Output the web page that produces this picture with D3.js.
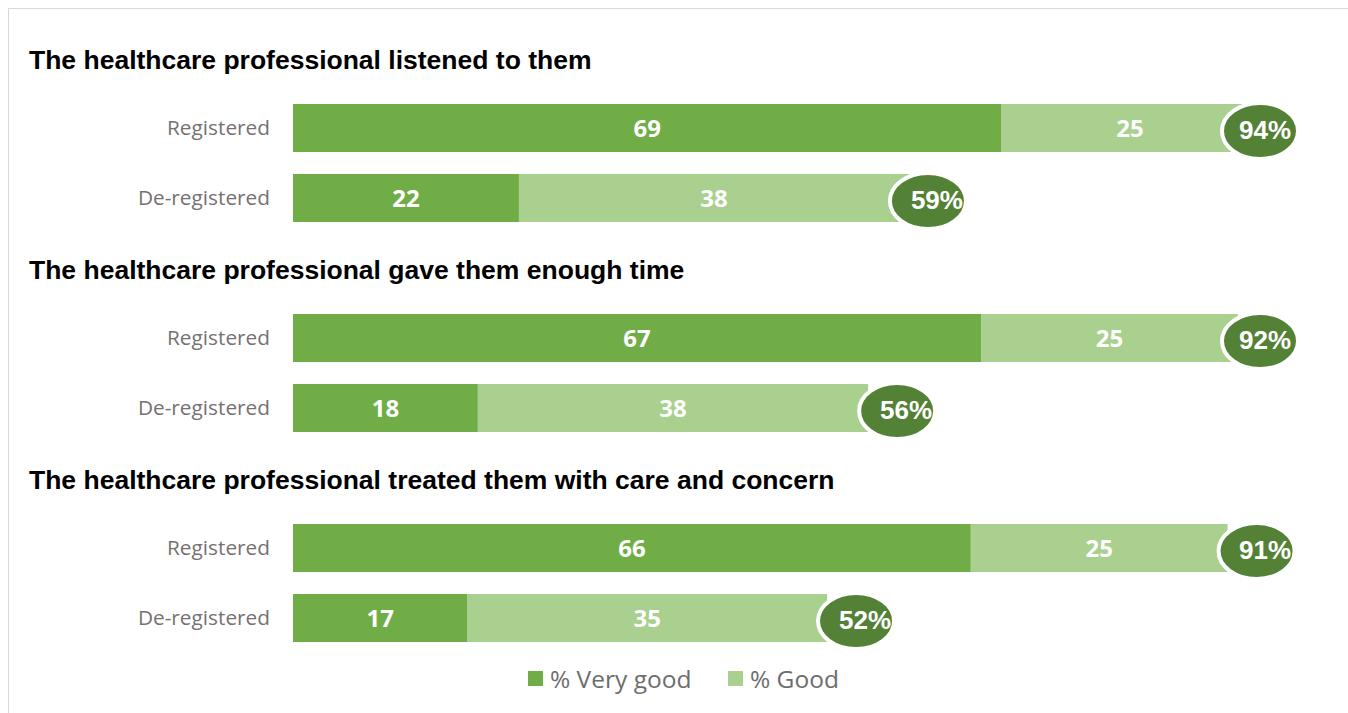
<!DOCTYPE html>
<html><head><meta charset="utf-8">
<script src="https://cdn.jsdelivr.net/npm/d3@7"></script>
<style>body{margin:0;background:#fff}svg{display:block}</style>
</head><body>
<script>
const questions = ["The healthcare professional listened to them","The healthcare professional gave them enough time","The healthcare professional treated them with care and concern"];
const groups = ["Registered","De-registered"];
const veryGood = [[69,22],[67,18],[66,17]];
const good = [[25,38],[25,38],[25,35]];
const totals = [[94,59],[92,56],[91,52]];
const seriesNames = ["% Very good","% Good"];
const colors = ["#70AD47","#A9D08E"];
const badgeColor = "#538135";

const W=1348,H=713;
const svg=d3.select("body").append("svg").attr("width",W).attr("height",H);
svg.append("rect").attr("x",8.5).attr("y",8.5).attr("width",W-8).attr("height",H).attr("fill","#fff").attr("stroke","#d9d9d9");

const x=d3.scaleLinear().domain([0,100]).range([293,293+1027]);
const panelY=d3.scaleBand().domain(questions).range([35,665]).paddingInner(0);
const maxBadge=1260;

questions.forEach((q,qi)=>{
  const top=panelY(q);
  const g=svg.append("g");
  g.append("text").attr("x",29).attr("y",top+34).text(q)
    .attr("font-family","Liberation Sans, Arial, sans-serif").attr("font-weight","bold").attr("font-size",26.5).attr("fill","#000");
  const y=d3.scaleBand().domain(groups).range([top+69,top+187]).paddingInner(22/70).paddingOuter(0);
  groups.forEach((gr,gi)=>{
    const yy=y(gr),bh=y.bandwidth();
    const vg=veryGood[qi][gi],gd=good[qi][gi],tot=totals[qi][gi];
    g.append("text").attr("x",270).attr("y",yy+bh/2+7).attr("text-anchor","end").text(gr)
      .attr("font-family","Open Sans, sans-serif").attr("font-size",20.8).attr("fill","#767171");
    const segs=[[0,vg],[vg,vg+gd]];
    segs.forEach((s,si)=>{
      g.append("rect").attr("x",x(s[0])).attr("y",yy).attr("width",x(s[1])-x(s[0])).attr("height",bh).attr("fill",colors[si]);
      g.append("text").attr("x",(x(s[0])+x(s[1]))/2).attr("y",yy+bh/2+9).attr("text-anchor","middle")
        .text(s[1]-s[0]).attr("font-family","Open Sans, sans-serif").attr("font-weight","bold").attr("font-size",24).attr("fill","#fff");
    });
    const cx=Math.min(x(tot)+29,maxBadge);
    const tx=Math.min(x(tot)+38,1265);
    g.append("ellipse").attr("cx",cx).attr("cy",yy+bh/2+3).attr("rx",38).attr("ry",28)
      .attr("fill",badgeColor).attr("stroke","#fff").attr("stroke-width",4);
    g.append("text").attr("x",tx).attr("y",yy+bh/2+11).attr("text-anchor","middle").text(tot+"%")
      .attr("font-family","Liberation Sans, Arial, sans-serif").attr("font-weight","bold").attr("font-size",26).attr("fill","#fff");
  });
});

const leg=svg.append("g");
const legX=[528,728];
seriesNames.forEach((n,i)=>{
  leg.append("rect").attr("x",legX[i]).attr("y",671).attr("width",15).attr("height",15).attr("fill",colors[i]);
  leg.append("text").attr("x",legX[i]+22).attr("y",688).text(n)
    .attr("font-family","Open Sans, sans-serif").attr("font-size",24.5).attr("fill","#6d6d6d");
});
</script>
</body></html>
